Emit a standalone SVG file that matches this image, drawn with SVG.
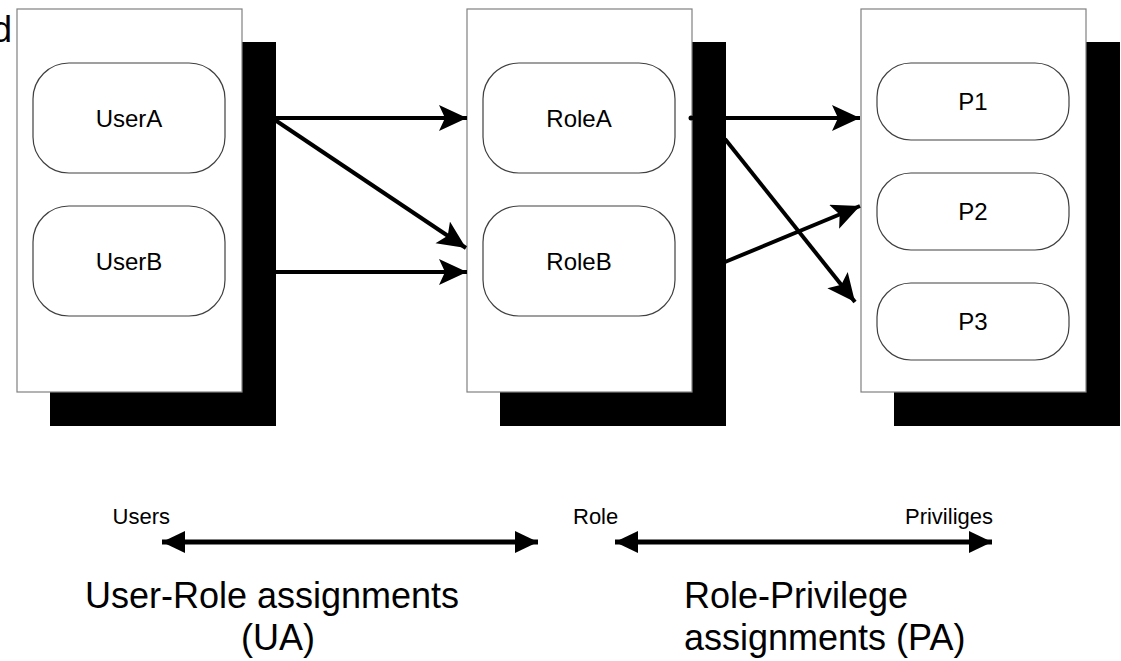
<svg xmlns="http://www.w3.org/2000/svg" width="1121" height="661" viewBox="0 0 1121 661">
  <style>
    .shadow { fill: #000; }
    .panel { fill: #fff; stroke: #808080; stroke-width: 1.2; }
    .item { fill: #fff; stroke: #404040; stroke-width: 1.2; }
    .lbl { font-family: "Liberation Sans", Arial, sans-serif; fill: #000; }
    .itemtxt { font-size: 24px; text-anchor: middle; dominant-baseline: central; }
    .axis { font-size: 22px; }
    .big { font-size: 36px; }
    .conn { stroke: #000; stroke-width: 4; fill: none; }
    .span { stroke: #000; stroke-width: 5; fill: none; }
  </style>
  <defs>
    <marker id="head" markerUnits="userSpaceOnUse" markerWidth="30" markerHeight="28" refX="28" refY="13" orient="auto">
      <path d="M0,0 L28,13 L0,26 L6,13 Z" fill="#000"/>
    </marker>
    <marker id="head2" markerUnits="userSpaceOnUse" markerWidth="26" markerHeight="24" refX="23" refY="11" orient="auto-start-reverse">
      <path d="M0,0 L23,11 L0,22 Z" fill="#000"/>
    </marker>
  </defs>

  <rect width="1121" height="661" fill="#fff"/>

  <!-- clipped fragment of a heading at the left edge -->
  <text class="lbl big" x="12" y="42" text-anchor="end">d</text>

  <!-- Users column -->
  <g id="users">
    <rect class="shadow" x="50" y="42" width="226" height="384"/>
    <rect class="panel" x="17" y="9" width="225" height="383"/>
    <g id="userA">
      <rect class="item" x="33" y="63" width="192" height="110" rx="36" ry="36"/>
      <text class="lbl itemtxt" x="129" y="118">UserA</text>
    </g>
    <g id="userB">
      <rect class="item" x="33" y="206" width="192" height="110" rx="36" ry="36"/>
      <text class="lbl itemtxt" x="129" y="261">UserB</text>
    </g>
  </g>

  <!-- Roles column -->
  <g id="roles">
    <rect class="shadow" x="500" y="42" width="226" height="384"/>
    <rect class="panel" x="467" y="9" width="225" height="383"/>
    <g id="roleA">
      <rect class="item" x="483" y="63" width="192" height="110" rx="36" ry="36"/>
      <text class="lbl itemtxt" x="579" y="118">RoleA</text>
    </g>
    <g id="roleB">
      <rect class="item" x="483" y="206" width="192" height="110" rx="36" ry="36"/>
      <text class="lbl itemtxt" x="579" y="261">RoleB</text>
    </g>
  </g>

  <!-- Privileges column -->
  <g id="privileges">
    <rect class="shadow" x="894" y="42" width="226" height="384"/>
    <rect class="panel" x="861" y="9" width="225" height="383"/>
    <g id="p1">
      <rect class="item" x="877" y="63" width="192" height="77" rx="34" ry="34"/>
      <text class="lbl itemtxt" x="973" y="101.5">P1</text>
    </g>
    <g id="p2">
      <rect class="item" x="877" y="173" width="192" height="77" rx="34" ry="34"/>
      <text class="lbl itemtxt" x="973" y="211.5">P2</text>
    </g>
    <g id="p3">
      <rect class="item" x="877" y="283" width="192" height="77" rx="34" ry="34"/>
      <text class="lbl itemtxt" x="973" y="321.5">P3</text>
    </g>
  </g>

  <!-- assignment connectors -->
  <g id="connectors">
    <line class="conn" x1="275" y1="118" x2="467" y2="118" marker-end="url(#head)"/>
    <line class="conn" x1="275" y1="120" x2="466" y2="248" marker-end="url(#head)"/>
    <line class="conn" x1="275" y1="272" x2="467" y2="272" marker-end="url(#head)"/>
    <circle cx="691" cy="118" r="2.5" fill="#000"/>
    <line class="conn" x1="691" y1="118" x2="860" y2="118" marker-end="url(#head)"/>
    <line class="conn" x1="725" y1="139" x2="855" y2="302" marker-end="url(#head)"/>
    <line class="conn" x1="725" y1="262" x2="860" y2="206" marker-end="url(#head)"/>
    <line class="span" x1="162" y1="542" x2="538" y2="542" marker-start="url(#head2)" marker-end="url(#head2)"/>
    <line class="span" x1="615" y1="542" x2="992" y2="542" marker-start="url(#head2)" marker-end="url(#head2)"/>
  </g>

  <!-- axis labels -->
  <text class="lbl axis" x="170" y="524" text-anchor="end">Users</text>
  <text class="lbl axis" x="573" y="524">Role</text>
  <text class="lbl axis" x="993" y="524" text-anchor="end">Priviliges</text>

  <!-- relation names -->
  <text class="lbl big" x="272" y="608" text-anchor="middle">User-Role assignments</text>
  <text class="lbl big" x="278" y="650" text-anchor="middle">(UA)</text>
  <text class="lbl big" x="684" y="608">Role-Privilege</text>
  <text class="lbl big" x="684" y="650">assignments (PA)</text>
</svg>
